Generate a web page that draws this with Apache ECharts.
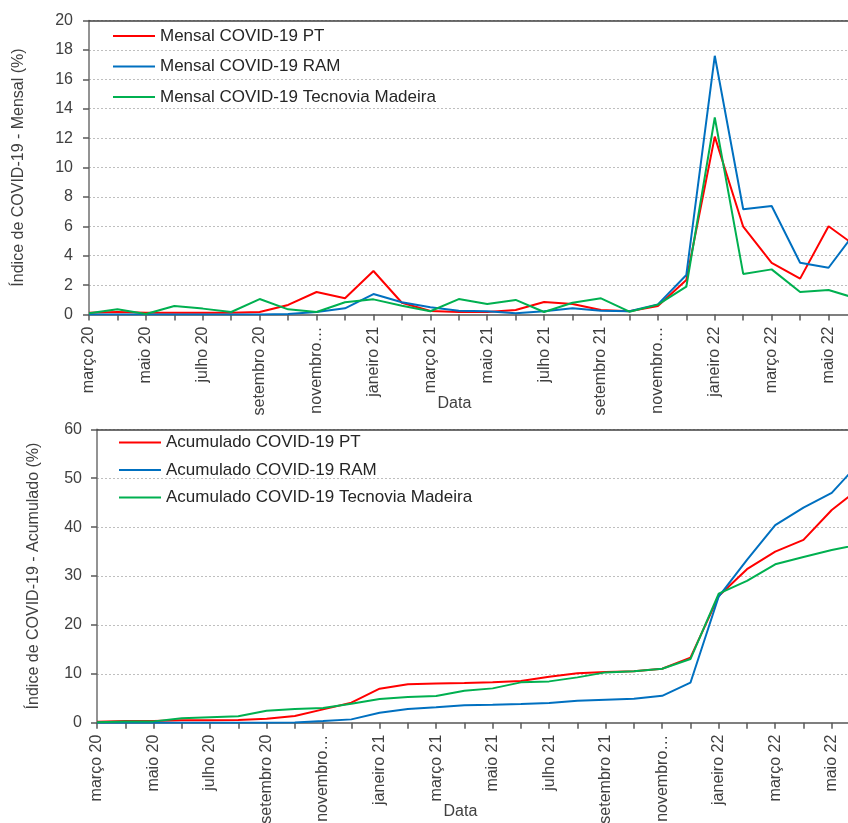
<!DOCTYPE html>
<html>
<head>
<meta charset="utf-8">
<script src="https://cdn.jsdelivr.net/npm/echarts@6/dist/echarts.min.js"></script>
<style>
  html, body { margin: 0; padding: 0; background: #fff; }
  #chart { width: 848px; height: 823px; }
</style>
</head>
<body>
<div id="chart"></div>
<script>
// Months from March 2020 to June 2022
const months = ["março 20","abril 20","maio 20","junho 20","julho 20","agosto 20","setembro 20","outubro 20","novembro 20","dezembro 20","janeiro 21","fevereiro 21","março 21","abril 21","maio 21","junho 21","julho 21","agosto 21","setembro 21","outubro 21","novembro 21","dezembro 21","janeiro 22","fevereiro 22","março 22","abril 22","maio 22","junho 22"];

// Monthly COVID-19 index (%)
const mensalPT = [0.12,0.17,0.12,0.12,0.12,0.12,0.17,0.65,1.53,1.1,2.96,0.8,0.24,0.17,0.17,0.31,0.85,0.71,0.31,0.22,0.58,2.35,12.1,5.97,3.52,2.44,6.0,4.6];
const mensalRAM = [0,0,0,0,0,0,0,0.03,0.17,0.42,1.39,0.83,0.49,0.26,0.22,0.08,0.22,0.42,0.26,0.22,0.69,2.69,17.6,7.16,7.38,3.52,3.18,5.75];
const mensalTecnovia = [0.08,0.35,0.03,0.58,0.4,0.17,1.05,0.35,0.17,0.83,1.03,0.6,0.22,1.05,0.71,0.99,0.17,0.8,1.1,0.19,0.67,1.89,13.4,2.76,3.07,1.53,1.67,1.08];

// Cumulative COVID-19 index (%)
const acumPT = [0.2,0.34,0.34,0.48,0.48,0.55,0.82,1.36,2.73,4.09,6.95,7.84,8.04,8.1,8.25,8.52,9.41,10.09,10.36,10.5,11.04,13.3,25.9,31.4,35.0,37.4,43.5,48.0];
const acumRAM = [0,0,0,0,0,0,0,0.05,0.34,0.68,2.05,2.8,3.14,3.55,3.68,3.82,4.02,4.5,4.7,4.91,5.5,8.18,25.8,33.3,40.4,44.0,47.0,53.3];
const acumTecnovia = [0.08,0.27,0.27,0.89,1.09,1.3,2.45,2.8,3.0,3.89,4.84,5.25,5.45,6.54,7.02,8.25,8.45,9.27,10.29,10.5,11.04,13.02,26.4,29.0,32.4,33.9,35.3,36.5];

const namesMensal = ["Mensal COVID-19 PT","Mensal COVID-19 RAM","Mensal COVID-19 Tecnovia Madeira"];
const namesAcum = ["Acumulado COVID-19 PT","Acumulado COVID-19 RAM","Acumulado COVID-19 Tecnovia Madeira"];
const colors = ["#FF0000","#0070C0","#00B050"];

const FONT = "'Liberation Sans', Arial, sans-serif";
const TXT = "#404040";

function xAxisFor(gridIndex) {
  return {
    type: "category", gridIndex, data: months, boundaryGap: false,
    axisLine: { lineStyle: { color: "#7f7f7f", width: 2 } },
    axisTick: { show: true, interval: 0, length: 6, lineStyle: { color: "#595959", width: 1.5 } },
    axisLabel: {
      interval: 1, rotate: 90, margin: 12, fontSize: 16, color: TXT, fontFamily: FONT,
      hideOverlap: false,
      formatter: v => v.startsWith("novembro") ? "novembro…" : v
    },
    splitLine: { show: false }
  };
}

// A hidden top axis gives each plot its solid upper frame line
function topFrameFor(gridIndex) {
  return {
    type: "category", gridIndex, data: months, boundaryGap: false, position: "top",
    axisLine: { show: true, lineStyle: { color: "#404040", width: 1.5 } },
    axisTick: { show: false }, axisLabel: { show: false }, splitLine: { show: false }
  };
}

function yAxisFor(gridIndex, max, interval, name, gap, labelMargin) {
  return {
    type: "value", gridIndex, min: 0, max, interval,
    name, nameLocation: "middle", nameGap: gap,
    nameTextStyle: { fontSize: 16, color: TXT, fontFamily: FONT },
    axisLine: { show: true, lineStyle: { color: "#6f6f6f", width: 1.5 } },
    axisTick: { show: true, length: 6, lineStyle: { color: "#595959", width: 1.5 } },
    axisLabel: { margin: labelMargin, fontSize: 16, color: TXT, fontFamily: FONT },
    splitLine: { show: true, lineStyle: { color: "#bfbfbf", type: [2, 2], width: 1 } }
  };
}

function lineSeries(name, data, color, idx) {
  return {
    name, type: "line", data, xAxisIndex: idx, yAxisIndex: idx,
    symbol: "none", lineStyle: { color, width: 2 }, itemStyle: { color },
    z: 3, animation: false
  };
}

const chart = echarts.init(document.getElementById("chart"), null, { renderer: "canvas" });

chart.setOption({
  animation: false,
  textStyle: { fontFamily: FONT },
  grid: [
    { left: 89, right: -9, top: 20.5, bottom: 508.5, containLabel: false, outerBoundsMode: "none", show: false },
    { left: 97, right: -12, top: 429.3, bottom: 100.3, containLabel: false, outerBoundsMode: "none", show: false }
  ],
  xAxis: [xAxisFor(0), xAxisFor(1), topFrameFor(0), topFrameFor(1)],
  yAxis: [
    yAxisFor(0, 20, 2, "Índice de COVID-19 - Mensal (%)", 62, 16),
    yAxisFor(1, 60, 10, "Índice de COVID-19 - Acumulado (%)", 55, 15)
  ],
  legend: [
    {
      data: namesMensal, orient: "vertical", left: 113, top: 27.5, padding: 0,
      itemGap: 13.5, itemWidth: 42, itemHeight: 2, icon: "rect",
      textStyle: { fontSize: 17, color: "#262626", fontFamily: FONT, lineHeight: 17 }
    },
    {
      data: namesAcum, orient: "vertical", left: 119, top: 434, padding: 0,
      itemGap: 10.5, itemWidth: 42, itemHeight: 2, icon: "rect",
      textStyle: { fontSize: 17, color: "#262626", fontFamily: FONT, lineHeight: 17 }
    }
  ],
  graphic: [
    { type: "text", left: 455.5 - 18, top: 396, style: { text: "Data", fontSize: 16, fill: TXT, fontFamily: FONT } },
    { type: "text", left: 461.5 - 18, top: 804, style: { text: "Data", fontSize: 16, fill: TXT, fontFamily: FONT } }
  ],
  series: [
    lineSeries(namesMensal[0], mensalPT, colors[0], 0),
    lineSeries(namesMensal[1], mensalRAM, colors[1], 0),
    lineSeries(namesMensal[2], mensalTecnovia, colors[2], 0),
    lineSeries(namesAcum[0], acumPT, colors[0], 1),
    lineSeries(namesAcum[1], acumRAM, colors[1], 1),
    lineSeries(namesAcum[2], acumTecnovia, colors[2], 1)
  ]
});
</script>
</body>
</html>
